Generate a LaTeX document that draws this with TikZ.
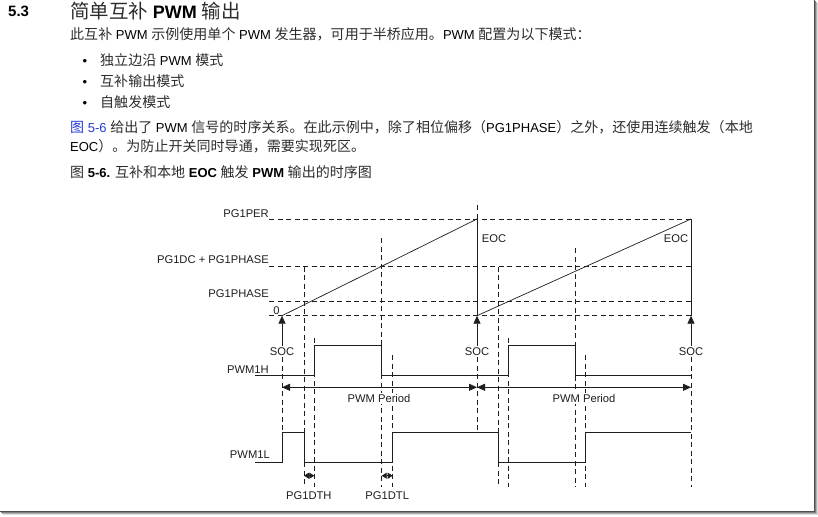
\documentclass[tikz,border=0pt]{standalone}
\usepackage{fontspec}
\setmainfont{Liberation Sans}
\newfontfamily\cjk[Scale=1.08]{Noto Sans CJK SC}
\usetikzlibrary{arrows.meta}
\definecolor{zhgray}{RGB}{45,45,45}
\definecolor{linkblue}{RGB}{40,60,215}
\definecolor{ln}{RGB}{30,30,30}
\newcommand\zh[1]{{\cjk\color{zhgray}#1}}
\tikzset{
  txt/.style={inner sep=0pt, anchor=base west, text=black},
  body/.style={txt, font=\fontsize{13}{16}\selectfont},
  lab/.style={inner sep=0pt, text=ln, font=\fontsize{11.2}{13}\selectfont},
  dsh/.style={ln, line width=0.7pt, dash pattern=on 5pt off 3.5pt},
  sig/.style={ln, line width=0.8pt},
  socarrow/.style={ln, line width=0.8pt, -{Triangle[length=8pt,width=7pt]}},
  perarrow/.style={ln, line width=0.8pt, {Triangle[length=8pt,width=7pt]}-{Triangle[length=8pt,width=7pt]}},
  dtarrow/.style={ln, line width=0.8pt, {Triangle[length=5pt,width=6pt]}-{Triangle[length=5pt,width=6pt]}},
}
\begin{document}
\begin{tikzpicture}[x=1pt,y=-1pt]
\fill[white] (0,0) rectangle (818,516);
\useasboundingbox (0,0) rectangle (818,516);

% ---------- frame shadow ----------
\draw[black!70, line width=1pt] (814.5,0) -- (814.5,511.5) -- (0,511.5);
\draw[black!50, line width=1pt] (815.5,1) -- (815.5,512.5) -- (1,512.5);
\draw[black!30, line width=1pt] (816.5,2) -- (816.5,513.5) -- (2,513.5);
\draw[black!14, line width=1pt] (817.5,3) -- (817.5,514.5) -- (3,514.5);

% ---------- text block ----------
\node[txt, font=\fontsize{15}{18}\selectfont\bfseries] (secnum) at (8,16.7) {5.3};
\node[txt, font=\fontsize{18}{22}\selectfont] (title) at (70,18.3) {\zh{简单互补} \textbf{PWM} \zh{输出}};
\node[body] (p1) at (70,39.5) {\zh{此互补} PWM \zh{示例使用单个} PWM \zh{发生器，可用于半桥应用。}PWM \zh{配置为以下模式：}};
\node[body, anchor=base] (b1) at (85,66) {•};
\node[body] (i1) at (100,66) {\zh{独立边沿} PWM \zh{模式}};
\node[body, anchor=base] (b2) at (85,86.5) {•};
\node[body] (i2) at (100,86.5) {\zh{互补输出模式}};
\node[body, anchor=base] (b3) at (85,107) {•};
\node[body] (i3) at (100,107) {\zh{自触发模式}};
\node[body] (p2a) at (70,132.7) {{\color{linkblue}{\cjk 图} 5-6} \zh{给出了} PWM \zh{信号的时序关系。在此示例中，除了相位偏移（}PG1PHASE\zh{）之外，还使用连续触发（本地}};
\node[body] (p2b) at (70,151.7) {EOC\zh{）。为防止开关同时导通，需要实现死区。}};
\node[body] (cap) at (70,177.7) {\zh{图} \textbf{5-6.} \zh{互补和本地} \textbf{EOC} \zh{触发} \textbf{PWM} \zh{输出的时序图}};

% ---------- key coordinates ----------
\coordinate (s1) at (282,315.7);
\coordinate (e1) at (477,219);
\coordinate (s2) at (477,315.7);
\coordinate (e2) at (691,219);
\coordinate (s3) at (691,315.7);
\coordinate (ydc) at (691,266.7);
\coordinate (yph) at (691,301);

% ---------- level labels ----------
\node[lab, anchor=base east] (lper) at (269,217.3) {PG1PER};
\node[lab, anchor=base east] (ldc) at (269,263.3) {PG1DC + PG1PHASE};
\node[lab, anchor=base east] (lph) at (269,297.7) {PG1PHASE};
\node[lab, anchor=base] (lzero) at (276.5,314) {0};

% horizontal dashed levels
\draw[dsh] (lper.east |- e2) -- (e2);
\draw[dsh] (ldc.east |- ydc) -- (ydc);
\draw[dsh] (lph.east |- yph) -- (yph);
\draw[dsh] (lph.east |- s3) -- (s3);

% ramps
\draw[sig, line width=0.7pt] (s1) -- (e1);
\draw[sig, line width=0.7pt] (s2) -- (e2);
% EOC verticals
\draw[dsh] (477,205) -- (e1);
\draw[sig] (e1) -- (s2);
\draw[sig] (e2) -- (s3);
\node[lab, anchor=base west] (eoc1) at (481.7,242.3) {EOC};
\node[lab, anchor=base east] (eoc2) at (688.3,242.3) {EOC};

% SOC arrows
\node[lab, anchor=base, inner sep=1.5pt] (soc1) at (282,355.5) {SOC};
\node[lab, anchor=base, inner sep=1.5pt] (soc2) at (477,355.5) {SOC};
\node[lab, anchor=base, inner sep=1.5pt] (soc3) at (691,355.5) {SOC};
\draw[socarrow] (soc1.north) -- (s1);
\draw[socarrow] (soc2.north) -- (s2);
\draw[socarrow] (soc3.north) -- (s3);

% vertical dashed guides
\draw[dsh] (soc1.south) -- (282,432.3);
\draw[dsh] (soc2.south) -- (477,432.3);
\draw[dsh] (soc3.south) -- (691,487);
\draw[dsh] (304,266.7) -- (304,487);
\draw[dsh] (314.3,338) -- (314.3,487);
\draw[dsh] (381.7,238.3) -- (381.7,487);
\draw[dsh] (392.7,355) -- (392.7,487);
\draw[dsh] (498.3,266.7) -- (498.3,487);
\draw[dsh] (508.3,338) -- (508.3,487);
\draw[dsh] (575,248.3) -- (575,487);
\draw[dsh] (585,355) -- (585,487);

% PWM1H
\node[lab, anchor=base east] (lh) at (269,373) {PWM1H};
\draw[sig] (255,375.7) -- (314.3,375.7) -- (314.3,345.7) -- (381.7,345.7) -- (381.7,375.7)
  -- (508.3,375.7) -- (508.3,345.7) -- (575,345.7) -- (575,375.7) -- (691,375.7);

% PWM period
\coordinate (pa) at (282,387.3);
\coordinate (pb) at (477,387.3);
\coordinate (pc) at (691,387.3);
\draw[perarrow] (pa) -- (pb);
\draw[perarrow] (pb) -- (pc);
\node[lab, anchor=base, fill=white, inner sep=1pt] (per1) at (379,402.5) {PWM Period};
\node[lab, anchor=base, fill=white, inner sep=1pt] (per2) at (584,402.5) {PWM Period};

% PWM1L
\node[lab, anchor=base east] (ll) at (270,458.5) {PWM1L};
\draw[sig] (255,462.3) -- (282,462.3) -- (282,432.3) -- (304,432.3) -- (304,462.3)
  -- (392.7,462.3) -- (392.7,432.3) -- (498.3,432.3) -- (498.3,462.3) -- (585,462.3)
  -- (585,432.3) -- (691,432.3);

% dead-time arrows
\coordinate (dth1) at (304,475.7);
\coordinate (dth2) at (314.3,475.7);
\coordinate (dtl1) at (381.7,475.7);
\coordinate (dtl2) at (392.7,475.7);
\draw[dtarrow] (dth1) -- (dth2);
\draw[dtarrow] (dtl1) -- (dtl2);
\node[lab, anchor=base] (ldth) at (308.8,499.3) {PG1DTH};
\node[lab, anchor=base] (ldtl) at (387.2,499.3) {PG1DTL};
\end{tikzpicture}
\end{document}
